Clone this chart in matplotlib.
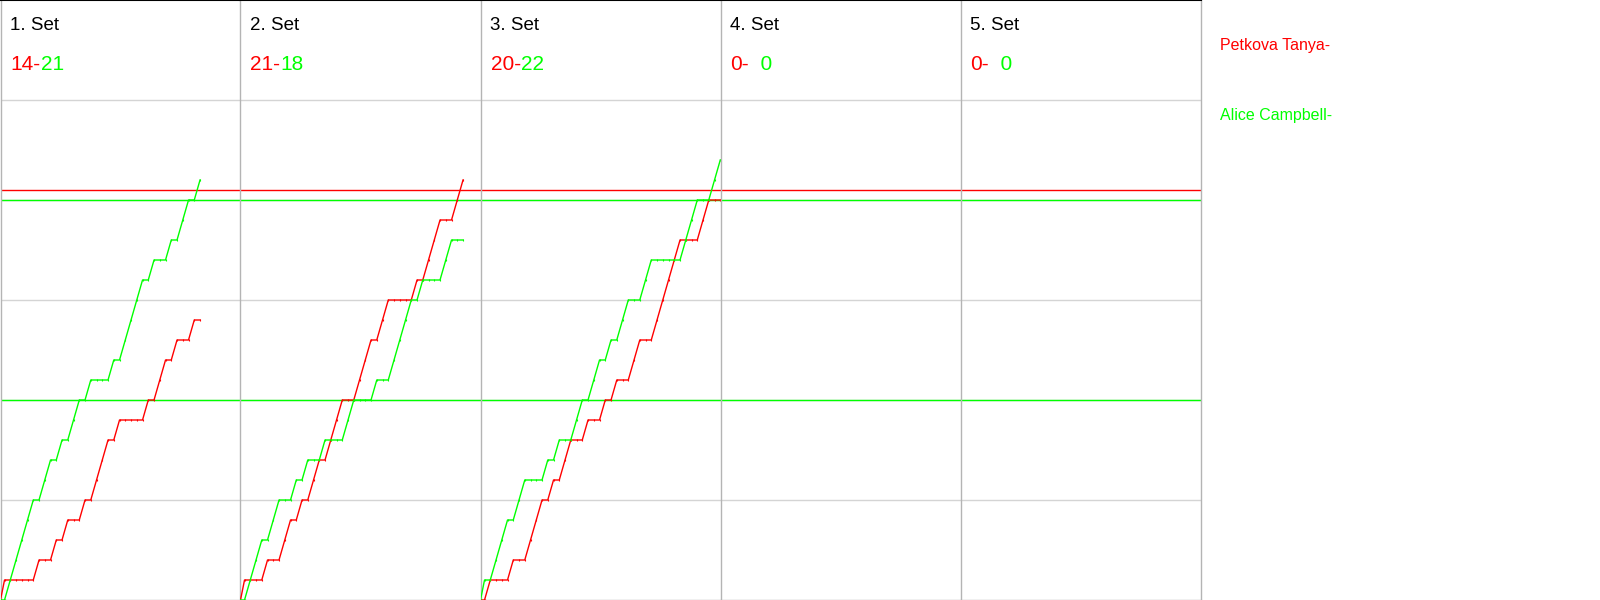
import numpy as np
import matplotlib
matplotlib.use("Agg")
import matplotlib.pyplot as plt

plt.rcParams['font.family'] = ['Liberation Sans', 'DejaVu Sans']

# ---------------- data ----------------
PLAYERS = ["Petkova Tanya", "Alice Campbell"]
PLAYER_CODES = ["R", "G"]
PLAYER_COLORS = ["#ff0000", "#00ff00"]
SET_LABELS = ["1. Set", "2. Set", "3. Set", "4. Set", "5. Set"]
# rally winners per set (R = Petkova Tanya, G = Alice Campbell)
SET1 = "RGGGG GRGGR GRGGR GRRRG RGGGG RGRRG RGGRG"
SET2 = "RGGGR GGRRG RGRRG RRRGG RRRGR RGGGG RGRRR GGRR"
SET3 = "GRGGG RGGRR RGRGR RGGRG GRGRG GRRGG RRRRR GGGRR GG"
SET4 = ""
SET5 = ""
SETS = [SET1, SET2, SET3, SET4, SET5]
# reference lines (points)
RED_REF = [20.5]
GREEN_REF = [10, 20]
Y_MAX = 30
GRID_STEP = 5

# ---------------- layout ----------------
W, H, DPI = 1600, 600, 100
PANEL_PX = 240
RALLY_PX = 5.75
RALLY_SHIFT = 0.3
fig = plt.figure(figsize=(W / DPI, H / DPI), dpi=DPI)
fig.patch.set_facecolor("white")

GRID_C = "#d4d4d4"
SPINE_C = "#b4b4b4"

for k, (label, seq) in enumerate(zip(SET_LABELS, SETS)):
    left = (PANEL_PX * k + 0.5) / W
    ax = fig.add_axes([left, 0, PANEL_PX / W, 1])
    ax.set_xlim(0, PANEL_PX / RALLY_PX)
    ax.set_ylim(0, Y_MAX)
    ax.set_xticks([])
    ax.set_yticks(np.arange(GRID_STEP, Y_MAX, GRID_STEP))
    ax.tick_params(left=False, labelleft=False)
    ax.grid(axis="y", color=GRID_C, lw=1.0, zorder=0)
    ax.set_axisbelow(True)
    for s in ["left", "right", "bottom"]:
        ax.spines[s].set_color(SPINE_C)
        ax.spines[s].set_linewidth(1.0)
    ax.spines["right"].set_visible(k == len(SETS) - 1)
    ax.spines["top"].set_color("black")
    ax.spines["top"].set_linewidth(1.5)

    for v in GREEN_REF:
        ax.axhline(v, color=PLAYER_COLORS[1], lw=1.0, zorder=1)
    for v in RED_REF:
        ax.axhline(v, color=PLAYER_COLORS[0], lw=1.0, zorder=1)

    seq = seq.replace(" ", "")
    n = len(seq)
    scores = []
    if n:
        xs = np.maximum(np.arange(n + 1) - RALLY_SHIFT, 0)
        for code, col in zip(PLAYER_CODES, PLAYER_COLORS):
            cum = np.concatenate([[0], np.cumsum([c == code for c in seq])])
            ax.plot(xs, cum, color=col, lw=1.0, marker="|", ms=2.0, mew=0.8,
                    mec=col, mfc=col, zorder=3, clip_on=True)
            scores.append(int(cum[-1]))
    else:
        scores = [0, 0]

    ax.text(10 / PANEL_PX, 1 - 29.5 / H, label, transform=ax.transAxes,
            fontsize=13.5, color="black", ha="left", va="baseline")
    t1 = ax.text(10 / PANEL_PX, 1 - 70 / H, f"{scores[0]}-", transform=ax.transAxes,
                 fontsize=15, color=PLAYER_COLORS[0], ha="left", va="baseline")
    ax.annotate(f"{scores[1]:>2}".replace(" ", "  "), xy=(1, 0), xycoords=t1,
                fontsize=15, color=PLAYER_COLORS[1], ha="left", va="bottom")

# legend-like labels on the right
for i, (name, col) in enumerate(zip(PLAYERS, PLAYER_COLORS)):
    fig.text(1219.5 / W, 1 - (50 + 70 * i) / H, name + "-", color=col,
             fontsize=11.5, ha="left", va="baseline")

fig.savefig("out.png", dpi=DPI, facecolor="white")
